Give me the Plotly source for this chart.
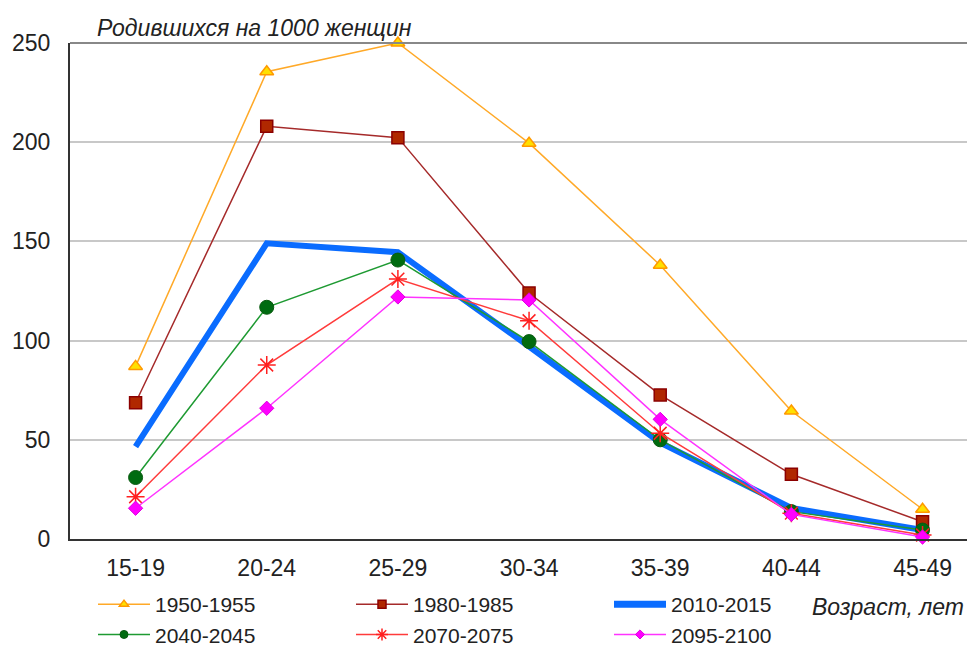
import plotly.graph_objects as go

ages = ["15-19", "20-24", "25-29", "30-34", "35-39", "40-44", "45-49"]
periods = ["1950-1955", "1980-1985", "2010-2015", "2040-2045", "2070-2075", "2095-2100"]
v1950 = [87, 235.5, 250, 199.5, 138, 64.5, 15]
v1980 = [68.7, 208, 202.3, 124, 72.6, 32.6, 8.7]
v2010 = [46.5, 149, 144.5, 97, 48.5, 15.6, 4.5]
v2040 = [31, 116.8, 140.6, 99.5, 50, 13.8, 4.5]
v2070 = [21.3, 87.7, 131, 110, 53.3, 13, 2]
v2095 = [15.5, 65.9, 122, 120.5, 60.3, 12.4, 1]
yticks = [0, 50, 100, 150, 200, 250]

# (line color, line width, marker symbol, marker size, legend marker size, fill, outline, outline width)
styles = [
    ("#FFA928", 1.5, "triangle-up", 12, 8, "#FFE000", "#FF9900", 1.5),
    ("#A52A2A", 1.5, "square", 12, 8, "#B02800", "#8B0000", 1.5),
    ("#0A6CFF", 6, None, 0, 0, None, None, 0),
    ("#1E9A32", 1.5, "circle", 14, 8, "#006B10", "#0A5A10", 1),
    ("#FF3B3B", 1.5, "asterisk-open", 15, 10, "#FF2020", "#FF2020", 1.5),
    ("#FF33FF", 1.5, "diamond", 11, 7, "#FF00FF", "#E000E0", 1),
]
series = [v1950, v1980, v2010, v2040, v2070, v2095]

fig = go.Figure()
for name, vals, (lc, lw, sym, ms, lms, fc, oc, ow) in zip(periods, series, styles):
    if sym is None:
        fig.add_trace(go.Scatter(x=ages, y=vals, name=name, mode="lines",
                                 line=dict(color=lc, width=lw), showlegend=False,
                                 cliponaxis=False))
        fig.add_trace(go.Scatter(x=[None], y=[None], name=name, mode="lines",
                                 line=dict(color=lc, width=7)))
    else:
        fig.add_trace(go.Scatter(x=ages, y=vals, name=name, mode="lines+markers",
                                 line=dict(color=lc, width=lw),
                                 marker=dict(symbol=sym, size=ms, color=fc,
                                             line=dict(color=oc, width=ow)),
                                 showlegend=False, cliponaxis=False))
        fig.add_trace(go.Scatter(x=[None], y=[None], name=name, mode="lines+markers",
                                 line=dict(color=lc, width=lw),
                                 marker=dict(symbol=sym, size=lms, color=fc,
                                             line=dict(color=oc, width=ow))))

font = "Liberation Sans, Arial, sans-serif"
W, H = 967, 640
fig.update_layout(
    width=W, height=H,
    margin=dict(l=62, r=0, t=35, b=109, autoexpand=False),
    paper_bgcolor="white", plot_bgcolor="white",
    font=dict(family=font, size=23, color="#222222"),
    showlegend=True,
    legend=dict(orientation="h", xref="container", yref="container",
                x=85 / W, y=1 - 576 / H, xanchor="left", yanchor="top",
                entrywidth=191, entrywidthmode="pixels",
                itemwidth=52, tracegroupgap=0,
                font=dict(size=21, family=font, color="#222222"),
                bgcolor="rgba(0,0,0,0)"),
    xaxis=dict(type="category", range=[-0.5, 6.4], showgrid=False,
               showline=True, linecolor="#333333", linewidth=2,
               ticks="", tickfont=dict(size=23), ticklabelstandoff=7),
    yaxis=dict(range=[0, 250], tickvals=yticks, showgrid=True,
               gridcolor="#C8C8C8", gridwidth=1.5,
               showline=True, linecolor="#333333", linewidth=2,
               ticks="", tickfont=dict(size=23), zeroline=False,
               ticklabelstandoff=13),
    annotations=[
        dict(text="<i>Родившихся на 1000 женщин</i>", xref="paper", yref="paper",
             x=(87 - 62) / 905, y=1.0, xanchor="left", yanchor="bottom",
             yshift=0, showarrow=False, font=dict(size=23, family=font, color="#222222")),
        dict(text="<i>Возраст, лет</i>", xref="paper", yref="paper",
             x=(958 - 62) / 905, y=(531 - 599) / 496, xanchor="right", yanchor="middle",
             showarrow=False, font=dict(size=23, family=font, color="#222222")),
    ],
)
fig.add_shape(type="line", xref="paper", yref="paper", x0=0, x1=1, y0=1, y1=1,
              line=dict(color="#888888", width=2))
fig.write_html("out.html")
